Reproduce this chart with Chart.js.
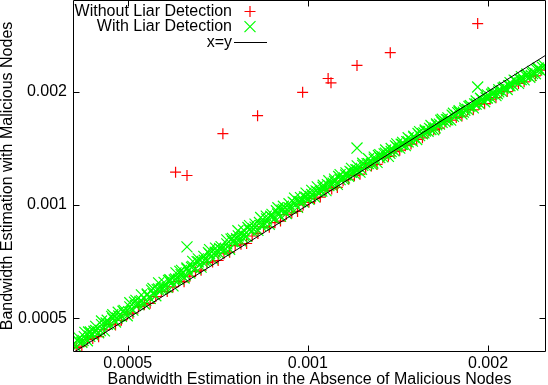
<!DOCTYPE html>
<html>
<head>
<meta charset="utf-8">
<script src="https://cdn.jsdelivr.net/npm/chart.js@4.4.1/dist/chart.umd.min.js"></script>
<style>
  html, body { margin: 0; padding: 0; background: #fff; }
  #wrap { width: 548px; height: 385px; }
</style>
</head>
<body>
<div id="wrap"><canvas id="chart" width="548" height="385"></canvas></div>
<script>
// axis settings
const X_MIN = 0.000405, X_MAX = 0.0025;
const Y_MIN = 0.000407, Y_MAX = 0.0035;
const xTicks = [0.0005, 0.001, 0.002];
const yTicks = [0.0005, 0.001, 0.002];

const xTitle = "Bandwidth Estimation in the Absence of Malicious Nodes";
const yTitle = "Bandwidth Estimation with Malicious Nodes";
const labels = ["Without Liar Detection", "With Liar Detection", "x=y"];

// main band, x positions (shared by red points and lower green points)
const bandX = [
  0.000410, 0.000419, 0.000428, 0.000437, 0.000447, 0.000457, 0.000467, 0.000477, 0.000488, 0.000499,
  0.000510, 0.000521, 0.000533, 0.000545, 0.000557, 0.000569, 0.000582, 0.000595, 0.000608, 0.000621,
  0.000635, 0.000649, 0.000663, 0.000678, 0.000693, 0.000708, 0.000724, 0.000740, 0.000756, 0.000773,
  0.000790, 0.000807, 0.000825, 0.000843, 0.000862, 0.000881, 0.000900, 0.000920, 0.000940, 0.000961,
  0.000982, 0.001004, 0.001026, 0.001049, 0.001072, 0.001096, 0.001120, 0.001145, 0.001170, 0.001196,
  0.001222, 0.001249, 0.001277, 0.001305, 0.001334, 0.001363, 0.001393, 0.001424, 0.001455, 0.001487,
  0.001520, 0.001554, 0.001588, 0.001623, 0.001659, 0.001695, 0.001732, 0.001770, 0.001809, 0.001849,
  0.001890, 0.001932, 0.001974, 0.002017, 0.002062, 0.002107, 0.002153, 0.002200, 0.002249, 0.002298,
  0.002349, 0.002400, 0.002453
];

// without liar detection
const redBandY = [
  0.000418, 0.000422, 0.000439, 0.000442, 0.000447, 0.000466, 0.000482, 0.000480, 0.000494, 0.000511,
  0.000516, 0.000537, 0.000543, 0.000548, 0.000571, 0.000590, 0.000589, 0.000606, 0.000627, 0.000625,
  0.000647, 0.000665, 0.000671, 0.000703, 0.000706, 0.000712, 0.000742, 0.000749, 0.000780, 0.000787,
  0.000790, 0.000827, 0.000840, 0.000875, 0.000873, 0.000897, 0.000906, 0.000943, 0.000952, 0.000961,
  0.001000, 0.001016, 0.001039, 0.001049, 0.001092, 0.001103, 0.001113, 0.001159, 0.001170, 0.001196,
  0.001207, 0.001257, 0.001269, 0.001281, 0.001334, 0.001346, 0.001385, 0.001398, 0.001437, 0.001451,
  0.001492, 0.001507, 0.001569, 0.001584, 0.001599, 0.001664, 0.001680, 0.001706, 0.001722, 0.001793,
  0.001789, 0.001851, 0.001857, 0.001909, 0.001927, 0.002006, 0.002000, 0.002069, 0.002102, 0.002122,
  0.002196, 0.002202, 0.002279
];
const redOutX = [0.000601, 0.000628, 0.000721, 0.000824, 0.000980, 0.001081, 0.001093, 0.001208, 0.001373, 0.001922];
const redOutY = [0.001222, 0.001197, 0.001546, 0.001726, 0.001991, 0.002166, 0.002110, 0.002346, 0.002536, 0.003030];

// with liar detection: several strips of the band
const greenLowY = [
  0.000420, 0.000432, 0.000436, 0.000453, 0.000458, 0.000463, 0.000482, 0.000489, 0.000506, 0.000508,
  0.000526, 0.000544, 0.000546, 0.000565, 0.000574, 0.000598, 0.000604, 0.000610, 0.000635, 0.000640,
  0.000659, 0.000677, 0.000684, 0.000712, 0.000719, 0.000748, 0.000756, 0.000763, 0.000794, 0.000802,
  0.000825, 0.000853, 0.000856, 0.000885, 0.000889, 0.000920, 0.000934, 0.000949, 0.000981, 0.000985,
  0.001019, 0.001035, 0.001051, 0.001088, 0.001092, 0.001130, 0.001134, 0.001173, 0.001192, 0.001211,
  0.001222, 0.001272, 0.001285, 0.001297, 0.001342, 0.001346, 0.001393, 0.001415, 0.001437, 0.001487,
  0.001492, 0.001545, 0.001569, 0.001584, 0.001639, 0.001664, 0.001680, 0.001727, 0.001744, 0.001793,
  0.001810, 0.001862, 0.001879, 0.001932, 0.001951, 0.002006, 0.002025, 0.002082, 0.002102, 0.002148,
  0.002183, 0.002230, 0.002265
];
const greenMidX = [
  0.000406, 0.000414, 0.000423, 0.000432, 0.000442, 0.000452, 0.000462, 0.000472, 0.000483, 0.000494,
  0.000504, 0.000515, 0.000527, 0.000539, 0.000551, 0.000563, 0.000576, 0.000589, 0.000601, 0.000614,
  0.000628, 0.000642, 0.000656, 0.000671, 0.000685, 0.000700, 0.000716, 0.000732, 0.000748, 0.000765,
  0.000781, 0.000798, 0.000816, 0.000834, 0.000853, 0.000871, 0.000890, 0.000910, 0.000930, 0.000950,
  0.000971, 0.000993, 0.001015, 0.001038, 0.001060, 0.001084, 0.001108, 0.001132, 0.001157, 0.001183,
  0.001209, 0.001235, 0.001263, 0.001291, 0.001319, 0.001348, 0.001378, 0.001408, 0.001439, 0.001471,
  0.001503, 0.001537, 0.001571, 0.001605, 0.001641, 0.001676, 0.001713, 0.001751, 0.001789, 0.001829,
  0.001869, 0.001911, 0.001952, 0.001995, 0.002039, 0.002084, 0.002129, 0.002176, 0.002224, 0.002273,
  0.002323, 0.002374, 0.002426
];
const greenMidY = [
  0.000426, 0.000433, 0.000447, 0.000448, 0.000464, 0.000481, 0.000482, 0.000499, 0.000507, 0.000515,
  0.000536, 0.000541, 0.000557, 0.000577, 0.000582, 0.000598, 0.000605, 0.000630, 0.000636, 0.000653,
  0.000676, 0.000687, 0.000706, 0.000713, 0.000742, 0.000749, 0.000761, 0.000788, 0.000800, 0.000828,
  0.000831, 0.000859, 0.000873, 0.000881, 0.000918, 0.000927, 0.000946, 0.000973, 0.000983, 0.001011,
  0.001020, 0.001049, 0.001066, 0.001083, 0.001114, 0.001125, 0.001156, 0.001168, 0.001201, 0.001220,
  0.001239, 0.001274, 0.001287, 0.001323, 0.001336, 0.001373, 0.001386, 0.001426, 0.001448, 0.001471,
  0.001513, 0.001528, 0.001571, 0.001586, 0.001631, 0.001656, 0.001682, 0.001719, 0.001767, 0.001784,
  0.001835, 0.001853, 0.001905, 0.001923, 0.001978, 0.001996, 0.002052, 0.002072, 0.002131, 0.002151,
  0.002212, 0.002232, 0.002296
];
const greenQX = [
  0.000412, 0.000421, 0.000430, 0.000439, 0.000450, 0.000460, 0.000470, 0.000480, 0.000491, 0.000502,
  0.000513, 0.000524, 0.000536, 0.000548, 0.000560, 0.000572, 0.000585, 0.000598, 0.000611, 0.000624,
  0.000639, 0.000653, 0.000667, 0.000682, 0.000697, 0.000712, 0.000728, 0.000744, 0.000760, 0.000777,
  0.000794, 0.000811, 0.000830, 0.000848, 0.000867, 0.000886, 0.000905, 0.000925, 0.000945, 0.000966,
  0.000987, 0.001010, 0.001032, 0.001055, 0.001078, 0.001102, 0.001126, 0.001151, 0.001176, 0.001203,
  0.001229, 0.001256, 0.001284, 0.001312, 0.001341, 0.001371, 0.001401, 0.001432, 0.001463, 0.001495,
  0.001528, 0.001563, 0.001597, 0.001632, 0.001668, 0.001704, 0.001742, 0.001780, 0.001819, 0.001859,
  0.001900, 0.001943, 0.001985, 0.002028, 0.002073, 0.002119, 0.002165, 0.002212, 0.002261, 0.002311,
  0.002362, 0.002413, 0.002467
];
const greenQY = [
  0.000438, 0.000437, 0.000460, 0.000462, 0.000464, 0.000486, 0.000506, 0.000501, 0.000522, 0.000521,
  0.000552, 0.000554, 0.000559, 0.000594, 0.000596, 0.000601, 0.000630, 0.000632, 0.000666, 0.000652,
  0.000683, 0.000707, 0.000705, 0.000747, 0.000741, 0.000766, 0.000765, 0.000811, 0.000813, 0.000821,
  0.000871, 0.000863, 0.000898, 0.000890, 0.000933, 0.000965, 0.000968, 0.000972, 0.001017, 0.001021,
  0.001050, 0.001054, 0.001090, 0.001088, 0.001132, 0.001143, 0.001190, 0.001180, 0.001228, 0.001240,
  0.001244, 0.001287, 0.001292, 0.001353, 0.001366, 0.001371, 0.001435, 0.001449, 0.001472, 0.001477,
  0.001547, 0.001553, 0.001597, 0.001602, 0.001678, 0.001684, 0.001731, 0.001758, 0.001764, 0.001825,
  0.001854, 0.001919, 0.001925, 0.001967, 0.001974, 0.002042, 0.002074, 0.002145, 0.002153, 0.002200,
  0.002208, 0.002284, 0.002320
];
const greenUpX = [
  0.000415, 0.000424, 0.000433, 0.000442, 0.000452, 0.000462, 0.000472, 0.000482, 0.000493, 0.000504,
  0.000516, 0.000527, 0.000539, 0.000551, 0.000563, 0.000575, 0.000588, 0.000602, 0.000615, 0.000628,
  0.000642, 0.000656, 0.000670, 0.000685, 0.000701, 0.000716, 0.000732, 0.000748, 0.000764, 0.000781,
  0.000799, 0.000816, 0.000834, 0.000852, 0.000871, 0.000891, 0.000910, 0.000930, 0.000950, 0.000972,
  0.000993, 0.001015, 0.001037, 0.001061, 0.001084, 0.001108, 0.001132, 0.001158, 0.001183, 0.001209,
  0.001235, 0.001263, 0.001291, 0.001319, 0.001349, 0.001378, 0.001408, 0.001440, 0.001471, 0.001503,
  0.001537, 0.001571, 0.001606, 0.001641, 0.001677, 0.001714, 0.001751, 0.001790, 0.001829, 0.001869,
  0.001911, 0.001953, 0.001996, 0.002039, 0.002085, 0.002130, 0.002177, 0.002224, 0.002274, 0.002323,
  0.002375, 0.002426, 0.002480
];
const greenUpY = [
  0.000443, 0.000459, 0.000460, 0.000476, 0.000492, 0.000494, 0.000511, 0.000519, 0.000525, 0.000550,
  0.000558, 0.000577, 0.000580, 0.000600, 0.000621, 0.000623, 0.000633, 0.000660, 0.000670, 0.000680,
  0.000708, 0.000719, 0.000730, 0.000761, 0.000768, 0.000775, 0.000808, 0.000815, 0.000854, 0.000857,
  0.000881, 0.000889, 0.000926, 0.000934, 0.000944, 0.000983, 0.000992, 0.001007, 0.001042, 0.001046,
  0.001075, 0.001093, 0.001117, 0.001128, 0.001159, 0.001171, 0.001204, 0.001216, 0.001250, 0.001270,
  0.001290, 0.001326, 0.001339, 0.001360, 0.001399, 0.001412, 0.001452, 0.001466, 0.001508, 0.001522,
  0.001565, 0.001581, 0.001625, 0.001641, 0.001688, 0.001703, 0.001751, 0.001779, 0.001807, 0.001835,
  0.001888, 0.001906, 0.001959, 0.001990, 0.002022, 0.002053, 0.002111, 0.002131, 0.002191, 0.002226,
  0.002261, 0.002310, 0.002347
];
const greenOutX = [0.000628, 0.001208, 0.001922];
const greenOutY = [0.000774, 0.001416, 0.002056];

// reference line y = x
const lineX = [0.0004, 0.0025];
const lineY = [0.0004, 0.0025];

const FONT_FAMILY = "'Liberation Sans', Arial, Helvetica, sans-serif";
const FONT = { family: FONT_FAMILY, size: 16 };
const TITLE_FONT = { family: FONT_FAMILY, size: 16, lineHeight: 1 };

function pts(xs, ys) {
  return xs.map((v, i) => ({ x: v, y: ys[i] }));
}

// gnuplot style border with inward ticks on all four sides
const frame = {
  id: 'frame',
  afterDraw(chart) {
    const { ctx, chartArea: a, scales } = chart;
    const l = Math.round(a.left) + 0.5, r = Math.round(a.right) - 0.5;
    const t = Math.round(a.top) + 0.5, b = Math.round(a.bottom) - 0.5;
    ctx.save();
    ctx.strokeStyle = '#000';
    ctx.lineWidth = 1;
    ctx.beginPath();
    ctx.rect(l, t, r - l, b - t);
    xTicks.forEach(v => {
      const p = Math.round(scales.x.getPixelForValue(v)) + 0.5;
      ctx.moveTo(p, b); ctx.lineTo(p, b - 6);
      ctx.moveTo(p, t); ctx.lineTo(p, t + 6);
    });
    yTicks.forEach(v => {
      const p = Math.round(scales.y.getPixelForValue(v)) + 0.5;
      ctx.moveTo(l, p); ctx.lineTo(l + 6, p);
      ctx.moveTo(r, p); ctx.lineTo(r - 6, p);
    });
    ctx.stroke();
    ctx.restore();
  }
};

// key in the top left corner: text right aligned, sample to its right
const key = {
  id: 'key',
  afterDraw(chart) {
    const ctx = chart.ctx;
    ctx.save();
    ctx.font = '16px ' + FONT_FAMILY;
    ctx.textAlign = 'right';
    ctx.textBaseline = 'alphabetic';
    chart.data.datasets.forEach((ds, i) => {
      const ty = 15.5 + i * 15.5;
      const my = 11.5 + i * 15.2;
      const mx = 250;
      ctx.fillStyle = '#000000';
      ctx.fillText(ds.label, 232, ty);
      ctx.strokeStyle = ds.borderColor;
      ctx.lineWidth = 1.2;
      ctx.beginPath();
      if (ds.pointStyle === 'cross') {
        ctx.moveTo(mx - 5.5, my); ctx.lineTo(mx + 5.5, my);
        ctx.moveTo(mx, my - 5.5); ctx.lineTo(mx, my + 5.5);
      } else if (ds.pointStyle === 'crossRot') {
        ctx.moveTo(mx - 5.5, my - 5.5); ctx.lineTo(mx + 5.5, my + 5.5);
        ctx.moveTo(mx - 5.5, my + 5.5); ctx.lineTo(mx + 5.5, my - 5.5);
      } else {
        ctx.lineWidth = 1;
        ctx.moveTo(234, Math.round(my) + 0.5); ctx.lineTo(267, Math.round(my) + 0.5);
      }
      ctx.stroke();
    });
    ctx.restore();
  }
};

function noPad(s) {
  s.paddingTop = 0; s.paddingBottom = 0;
  s.paddingLeft = 0; s.paddingRight = 0;
}

new Chart(document.getElementById('chart'), {
  type: 'scatter',
  data: {
    datasets: [
      {
        label: labels[0],
        data: pts(bandX, redBandY).concat(pts(redOutX, redOutY)),
        pointStyle: 'cross',
        pointRadius: 5.5,
        borderColor: '#ff0000',
        backgroundColor: '#ff0000',
        borderWidth: 1.2,
        order: 2
      },
      {
        label: labels[1],
        data: pts(bandX, greenLowY).concat(
          pts(greenMidX, greenMidY),
          pts(greenQX, greenQY),
          pts(greenUpX, greenUpY),
          pts(greenOutX, greenOutY)
        ),
        pointStyle: 'crossRot',
        pointRadius: 7.8,
        borderColor: '#00ff00',
        backgroundColor: '#00ff00',
        borderWidth: 1.2,
        order: 1
      },
      {
        label: labels[2],
        type: 'line',
        data: pts(lineX, lineY),
        borderColor: '#000000',
        borderWidth: 1,
        pointRadius: 0,
        fill: false,
        order: 0
      }
    ]
  },
  options: {
    responsive: false,
    animation: false,
    events: [],
    layout: { autoPadding: false, padding: { left: 0, right: 2, top: 0, bottom: 0 } },
    plugins: {
      legend: { display: false },
      tooltip: { enabled: false }
    },
    scales: {
      x: {
        type: 'logarithmic',
        min: X_MIN,
        max: X_MAX,
        afterBuildTicks: s => { s.ticks = xTicks.map(v => ({ value: v })); },
        afterFit: s => { s.height = 33; noPad(s); },
        grid: { display: false, drawTicks: false },
        border: { display: false },
        ticks: {
          color: '#000', font: FONT, padding: 2,
          autoSkip: false, maxRotation: 0,
          callback: v => String(v)
        },
        title: { display: true, text: xTitle, color: '#000', font: TITLE_FONT, padding: { top: 0, bottom: -3 } }
      },
      y: {
        type: 'logarithmic',
        min: Y_MIN,
        max: Y_MAX,
        afterBuildTicks: s => { s.ticks = yTicks.map(v => ({ value: v })); },
        afterFit: s => { s.width = 73; noPad(s); },
        grid: { display: false, drawTicks: false },
        border: { display: false },
        ticks: {
          color: '#000', font: FONT, padding: 6,
          autoSkip: false,
          callback: v => String(v)
        },
        title: { display: true, text: yTitle, color: '#000', font: TITLE_FONT, padding: 0 }
      }
    }
  },
  plugins: [frame, key]
});
</script>
</body>
</html>
